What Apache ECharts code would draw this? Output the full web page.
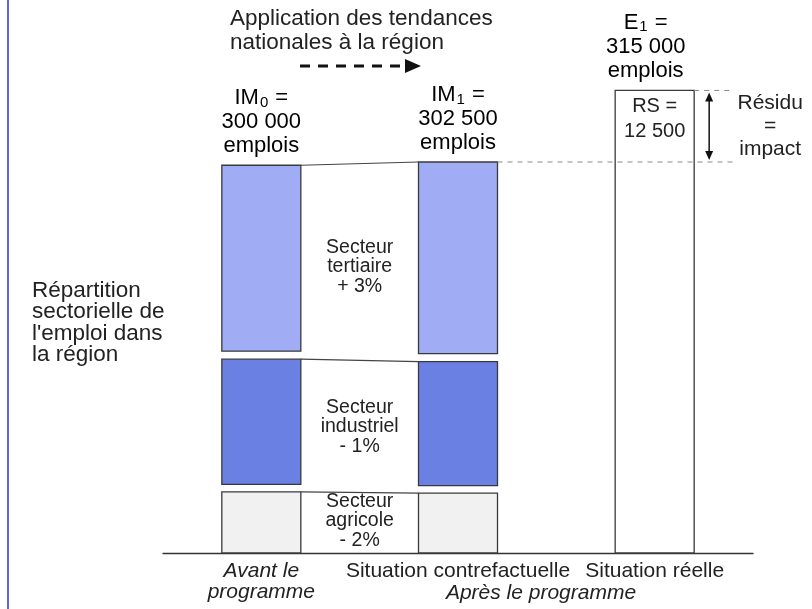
<!DOCTYPE html>
<html>
<head>
<meta charset="utf-8">
<script src="https://cdn.jsdelivr.net/npm/echarts@6/dist/echarts.min.js"></script>
<style>
  html, body { margin: 0; padding: 0; background: #ffffff; }
  #chart { width: 812px; height: 609px; }
</style>
</head>
<body>
<div id="chart"></div>
<script>
// ---- Data ----------------------------------------------------------------
const categories = ['Avant le\nprogramme', 'Situation contrefactuelle', 'Situation réelle'];
const afterCaption = 'Après le programme';
const sectorNames = ['Secteur\ntertiaire', 'Secteur\nindustriel', 'Secteur\nagricole'];
const sectorTrends = ['+ 3%', '- 1%', '- 2%'];
// Regional employment by sector before the programme (IM0)
const employmentBefore = [150000, 100000, 50000];
// Same sectors once national trends are applied (IM1)
const employmentCounterfactual = [154500, 99000, 49000];
// Observed total after the programme (E1) and the residual
const employmentObserved = 315000;
const residual = 12500;
const totalLabels = ['IM', 'IM', 'E'];
const totalIndices = ['0', '1', '1'];
const topNote = 'Application des tendances\nnationales à la région';
const sideNote = "Répartition\nsectorielle de\nl'emploi dans\nla région";
const residualNote = 'Résidu\n=\nimpact';

// ---- Styling -------------------------------------------------------------
const FONT = '"Liberation Sans", Arial, Helvetica, sans-serif';
const TEXT = '#222222';
const EDGE = '#3a3a3a';
const BAR_W = 79;
const Y_MAX = 400000;
// Per sector: fill colour, pixel gap trimmed off the segment, label nudge
const SECTOR_STYLE = [
  { color: '#a0acf3', insetTop: 0,   insetBottom: 8, labelDy: 9 },
  { color: '#6a80e2', insetTop: 0,   insetBottom: 4, labelDy: 4 },
  { color: '#f1f1f1', insetTop: 3.5, insetBottom: 0, labelDy: -2 }
];

const sum = a => a.reduce((s, v) => s + v, 0);
const fmt = v => String(v).replace(/\B(?=(\d{3})+(?!\d))/g, ' ');
const IM0 = sum(employmentBefore);
const IM1 = sum(employmentCounterfactual);

// The observed column sits on its own stretched scale so that the small
// residual stays readable; the scale is pinned so IM1 lands on the same height.
const RESIDUAL_ZOOM = 4.43;
const span2 = Y_MAX / RESIDUAL_ZOOM;
const y2Min = IM1 - (IM1 / Y_MAX) * span2;
const y2Max = y2Min + span2;

// Stacked segments, agricultural sector at the bottom
const segmentData = [];
[employmentBefore, employmentCounterfactual].forEach((vals, col) => {
  let base = 0;
  for (let s = vals.length - 1; s >= 0; s--) {
    segmentData.push([col, base, base + vals[s], s]);
    base += vals[s];
  }
});
const topOf = (vals, s) => sum(vals.slice(s));
const connectorData = sectorNames.map((_, s) => [
  s,
  topOf(employmentBefore, s), topOf(employmentBefore, s) - employmentBefore[s],
  topOf(employmentCounterfactual, s), topOf(employmentCounterfactual, s) - employmentCounterfactual[s]
]);

const richBase = {
  m: { fontFamily: FONT, fontSize: 22, lineHeight: 24, color: TEXT },
  s: { fontFamily: FONT, fontSize: 15, lineHeight: 14, color: TEXT, verticalAlign: 'bottom', padding: [0, 1, 0, 1] }
};
const totalText = (i, v) => `{m|${totalLabels[i]}}{s|${totalIndices[i]}}{m| =}\n{m|${fmt(v)}}\n{m|emplois}`;

function renderSegment(params, api) {
  const col = api.value(0), lo = api.value(1), hi = api.value(2), s = api.value(3);
  const st = SECTOR_STYLE[s];
  const top = api.coord([col, hi]);
  const bot = api.coord([col, lo]);
  const y0 = top[1] + st.insetTop;
  const y1 = bot[1] - st.insetBottom;
  const children = [{
    type: 'rect',
    shape: { x: top[0] - BAR_W / 2, y: y0, width: BAR_W, height: y1 - y0 },
    style: { fill: st.color, stroke: EDGE, lineWidth: 1.3 }
  }];
  if (s === 0) {
    const total = col === 0 ? IM0 : IM1;
    children.push({
      type: 'text',
      style: {
        text: totalText(col, total), rich: richBase,
        x: top[0], y: y0 - 7, align: 'center', verticalAlign: 'bottom'
      }
    });
  }
  return { type: 'group', children };
}

function renderConnector(params, api) {
  const s = api.value(0);
  const st = SECTOR_STYLE[s];
  const aTop = api.coord([0, api.value(1)]), aBot = api.coord([0, api.value(2)]);
  const bTop = api.coord([1, api.value(3)]), bBot = api.coord([1, api.value(4)]);
  const midA = ((aTop[1] + st.insetTop) + (aBot[1] - st.insetBottom)) / 2;
  const midB = ((bTop[1] + st.insetTop) + (bBot[1] - st.insetBottom)) / 2;
  return {
    type: 'group',
    children: [
      {
        type: 'line',
        shape: { x1: aTop[0] + BAR_W / 2, y1: aTop[1] + st.insetTop, x2: bTop[0] - BAR_W / 2, y2: bTop[1] + st.insetTop },
        style: { stroke: '#444', lineWidth: 1.2 }
      },
      {
        type: 'text',
        style: {
          text: sectorNames[s] + '\n' + sectorTrends[s],
          x: (aTop[0] + bTop[0]) / 2, y: (midA + midB) / 2 + st.labelDy,
          align: 'center', verticalAlign: 'middle',
          fontFamily: FONT, fontSize: 19.5, lineHeight: 19.5, fill: TEXT
        }
      }
    ]
  };
}

function renderObserved(params, api) {
  const col = api.value(0);
  const top = api.coord([col, api.value(1)]);
  const base = api.coord([col, api.value(2)]);
  const cs = params.coordSys;
  const bottomY = cs.y + cs.height;
  const right = top[0] + BAR_W / 2;
  const prevRight = api.coord([1, api.value(2)])[0] + BAR_W / 2;
  const ax = right + 15;
  const dash = { stroke: '#8a8a8a', lineWidth: 1, lineDash: [5, 5] };
  return {
    type: 'group',
    children: [
      { type: 'rect', shape: { x: top[0] - BAR_W / 2, y: top[1], width: BAR_W, height: bottomY - top[1] },
        style: { fill: '#ffffff', stroke: EDGE, lineWidth: 1.3 } },
      { type: 'line', shape: { x1: prevRight, y1: base[1], x2: right + 41, y2: base[1] }, style: dash },
      { type: 'line', shape: { x1: right, y1: top[1], x2: right + 38, y2: top[1] }, style: dash },
      { type: 'line', shape: { x1: ax, y1: top[1] + 8, x2: ax, y2: base[1] - 8 }, style: { stroke: '#111', lineWidth: 1.5 } },
      { type: 'polygon', shape: { points: [[ax - 4, top[1] + 11], [ax, top[1] + 2], [ax + 4, top[1] + 11]] }, style: { fill: '#111' } },
      { type: 'polygon', shape: { points: [[ax - 4, base[1] - 11], [ax, base[1] - 2], [ax + 4, base[1] - 11]] }, style: { fill: '#111' } },
      { type: 'text', style: { text: totalText(2, api.value(1)), rich: richBase,
          x: top[0] - 9, y: top[1] - 8, align: 'center', verticalAlign: 'bottom' } },
      { type: 'text', style: { text: 'RS =\n' + fmt(residual), x: top[0], y: top[1] + 4,
          align: 'center', verticalAlign: 'top', fontFamily: FONT, fontSize: 20, lineHeight: 25, fill: TEXT } },
      { type: 'text', style: { text: residualNote, x: ax + 61, y: (top[1] + base[1]) / 2,
          align: 'center', verticalAlign: 'middle', fontFamily: FONT, fontSize: 21, lineHeight: 23, fill: TEXT } }
    ]
  };
}

const chart = echarts.init(document.getElementById('chart'), null, { renderer: 'canvas' });
chart.setOption({
  animation: false,
  backgroundColor: '#ffffff',
  grid: { left: 163, right: 59, top: 36, bottom: 56, containLabel: false },
  xAxis: {
    type: 'category',
    data: categories,
    boundaryGap: true,
    axisLine: { lineStyle: { color: '#333', width: 1.3 } },
    axisTick: { show: false },
    axisLabel: {
      interval: 0,
      margin: 8,
      formatter: (v, i) => v.split('\n').map(l => `{${i === 0 ? 'it' : 'n'}|${l}}`).join('\n'),
      rich: {
        it: { fontFamily: FONT, fontSize: 21, lineHeight: 21, fontStyle: 'italic', color: TEXT },
        n: { fontFamily: FONT, fontSize: 21, lineHeight: 21, color: TEXT }
      }
    }
  },
  yAxis: [
    { type: 'value', min: 0, max: Y_MAX, show: false, splitLine: { show: false } },
    { type: 'value', min: y2Min, max: y2Max, show: false, splitLine: { show: false } }
  ],
  graphic: [
    { type: 'line', shape: { x1: 8, y1: 0, x2: 8, y2: 609 }, style: { stroke: '#5a68d6', lineWidth: 2 } },
    { type: 'text', left: 230, top: 7, style: { text: topNote, fontFamily: FONT, fontSize: 22.5, lineHeight: 24, fill: TEXT } },
    { type: 'line', shape: { x1: 300, y1: 66, x2: 406, y2: 66 }, style: { stroke: '#111', lineWidth: 3, lineDash: [10, 8] } },
    { type: 'polygon', shape: { points: [[405, 59], [421, 66], [405, 73]] }, style: { fill: '#111' } },
    { type: 'text', left: 32, top: 279, style: { text: sideNote, fontFamily: FONT, fontSize: 22.5, lineHeight: 21.5, fill: TEXT } },
    { type: 'text', x: 541, y: 593, style: { text: afterCaption, align: 'center', verticalAlign: 'middle',
        fontFamily: FONT, fontSize: 21, fontStyle: 'italic', fill: TEXT } }
  ],
  series: [
    { type: 'custom', name: 'segments', xAxisIndex: 0, yAxisIndex: 0, renderItem: renderSegment,
      data: segmentData, encode: { x: 0, y: [1, 2] }, z: 2 },
    { type: 'custom', name: 'connectors', xAxisIndex: 0, yAxisIndex: 0, renderItem: renderConnector,
      data: connectorData, encode: { y: [1, 2, 3, 4] }, z: 3 },
    { type: 'custom', name: 'observed', xAxisIndex: 0, yAxisIndex: 1, renderItem: renderObserved,
      data: [[2, employmentObserved, IM1]], encode: { x: 0, y: [1, 2] }, clip: false, z: 2 }
  ]
});
</script>
</body>
</html>
